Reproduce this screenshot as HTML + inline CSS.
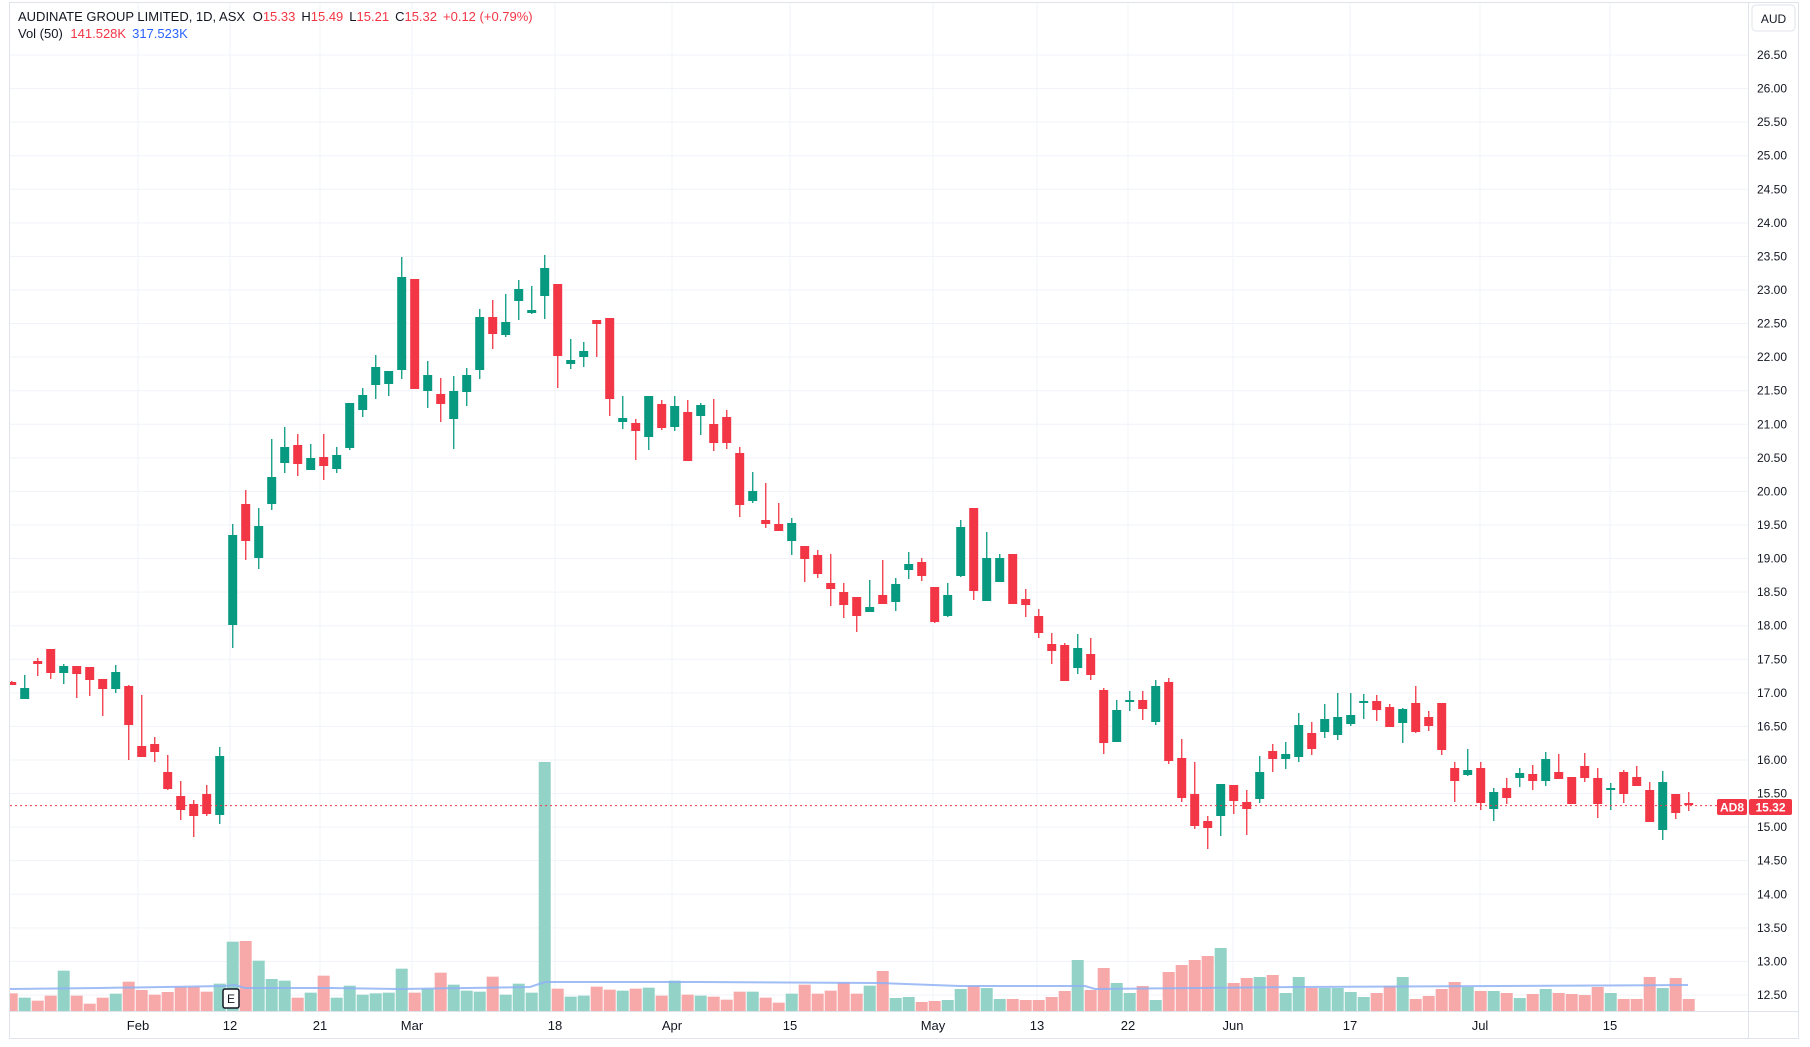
<!DOCTYPE html>
<html><head><meta charset="utf-8">
<style>
html,body{margin:0;padding:0;background:#fff;}
body{width:1810px;height:1042px;overflow:hidden;font-family:"Liberation Sans",sans-serif;}
svg text{font-family:"Liberation Sans",sans-serif;}
</style></head>
<body>
<svg id="s" width="1810" height="1042" viewBox="0 0 1810 1042" xmlns="http://www.w3.org/2000/svg">
<rect x="0" y="0" width="1810" height="1042" fill="#fff"/>
<rect x="9.5" y="2.5" width="1789" height="1036" fill="none" stroke="#e0e3eb" stroke-width="1"/>
<defs><clipPath id="cp"><rect x="10" y="3" width="1738" height="1008"/></clipPath></defs>
<g id="grid" stroke="#f0f3fa" stroke-width="1"></g>
<g id="vols" clip-path="url(#cp)"></g>
<polyline clip-path="url(#cp)" fill="none" stroke="#8fb1f5" stroke-width="2" opacity="0.85" points="10,989 100,988 225,986 235,985 245,988 330,988 400,989 530,987 545,982 700,982 880,983 960,986 1085,986 1095,989 1200,988 1300,987 1500,986 1688,985"/>
<g id="candles" clip-path="url(#cp)"></g>
<line x1="10" y1="805.6" x2="1717" y2="805.6" stroke="#f23645" stroke-width="1" stroke-dasharray="2,3"/>
<line x1="1748.5" y1="3" x2="1748.5" y2="1038" stroke="#e0e3eb"/>
<line x1="10" y1="1011.5" x2="1798" y2="1011.5" stroke="#e0e3eb"/>
<g id="plabels" font-size="12" fill="#131722"></g>
<g id="tlabels" font-size="13" fill="#131722" text-anchor="middle"></g>
<rect x="1752" y="5" width="43" height="26" rx="4" fill="#fff" stroke="#e0e3eb"/>
<text x="1773.5" y="23" font-size="12" text-anchor="middle" fill="#131722">AUD</text>
<rect x="1717" y="799" width="30" height="16" rx="2" fill="#f23645"/>
<text x="1732" y="811.5" font-size="12" font-weight="bold" text-anchor="middle" fill="#fff">AD8</text>
<rect x="1749" y="799" width="43" height="16" rx="2" fill="#f23645"/>
<text x="1770.5" y="811.5" font-size="12" font-weight="bold" text-anchor="middle" fill="#fff">15.32</text>
<rect x="223" y="989" width="16" height="19" rx="2" fill="#fff" stroke="#131722" stroke-width="1.5"/>
<text x="231" y="1003" font-size="12" text-anchor="middle" fill="#131722">E</text>
<text x="18" y="21" font-size="13" fill="#131722">AUDINATE GROUP LIMITED, 1D, ASX <tspan dx="4">O</tspan><tspan fill="#f23645">15.33</tspan><tspan dx="6">H</tspan><tspan fill="#f23645">15.49</tspan><tspan dx="6">L</tspan><tspan fill="#f23645">15.21</tspan><tspan dx="6">C</tspan><tspan fill="#f23645">15.32</tspan><tspan dx="6" fill="#f23645">+0.12 (+0.79%)</tspan></text>
<text x="18" y="38" font-size="13" fill="#131722">Vol (50) <tspan dx="4" fill="#f23645">141.528K</tspan><tspan dx="6" fill="#2962ff">317.523K</tspan></text>
</svg>
<script>
var NS="http://www.w3.org/2000/svg";
function el(p,t,a,txt){var e=document.createElementNS(NS,t);for(var k in a)e.setAttribute(k,a[k]);if(txt!==undefined)e.textContent=txt;p.appendChild(e);return e;}
var grid=document.getElementById('grid'),pl=document.getElementById('plabels'),tl=document.getElementById('tlabels');
for(var i=0;i<=28;i++){var p=26.5-i*0.5;var y=55+i*33.57;
 el(grid,'line',{x1:10,x2:1748,y1:y,y2:y});
 el(pl,'text',{x:1757,y:y+4},p.toFixed(2));}
var dates=[[138,'Feb'],[230,'12'],[320,'21'],[412,'Mar'],[555,'18'],[672,'Apr'],[790,'15'],[933,'May'],[1037,'13'],[1128,'22'],[1233,'Jun'],[1350,'17'],[1480,'Jul'],[1610,'15']];
dates.forEach(function(d){el(grid,'line',{x1:d[0],x2:d[0],y1:3,y2:1011});el(tl,'text',{x:d[0],y:1030},d[1]);});
var C=[
['r',681,682,685,685],['g',675,688,699,699],['r',658,661,664,676],['r',649,649,673,679],['g',664,666,673,684],
['r',666,666,674,698],['r',667,667,680,696],['r',679,679,689,716],['g',665,672,689,693],['r',685,686,725,760],
['r',695,746,757,757],['r',737,744,752,762],['r',755,772,789,790],['r',781,796,810,820],['r',800,804,816,837],
['r',785,794,814,816],['g',747,756,815,824],['g',524,535,625,648],['r',490,504,541,560],['g',508,526,558,569],
['g',439,477,504,510],['g',427,447,463,473],['r',434,445,464,476],['g',444,458,470,470],['r',434,457,466,480],
['g',447,455,469,473],['g',403,403,448,450],['g',388,395,410,417],['g',355,367,385,399],['g',371,371,384,396],
['g',257,277,370,379],['r',279,279,389,389],['g',361,375,391,408],['r',378,394,404,422],['g',376,391,419,449],
['g',368,375,392,406],['g',309,317,370,379],['r',300,317,334,349],['g',294,322,335,337],['g',280,289,301,320],
['g',286,310,313,314],['g',255,268,296,319],['r',284,284,356,388],['g',339,360,364,369],['g',342,351,357,367],
['r',320,320,324,357],['r',318,318,399,416],['g',396,418,422,429],['r',419,423,431,460],['g',396,396,437,450],
['r',400,404,428,430],['g',396,406,427,431],['r',400,412,461,461],['g',403,405,416,435],['r',399,424,443,451],
['r',410,417,443,449],['r',447,453,505,517],['g',472,491,501,503],['r',483,520,524,528],['r',503,524,531,531],
['g',518,523,541,555],['r',546,546,559,582],['r',550,555,574,578],['r',554,583,589,606],['r',583,592,605,618],
['r',597,597,616,632],['g',580,607,612,612],['r',560,595,604,604],['g',578,584,602,611],['g',552,564,570,579],
['r',558,562,576,581],['r',587,587,622,623],['g',583,595,616,617],['g',520,527,576,577],['r',508,508,591,600],
['g',532,558,601,601],['g',554,558,582,582],['r',554,554,604,604],['r',589,599,605,617],['r',609,616,633,638],
['r',633,644,651,664],['r',643,645,681,681],['g',634,648,668,674],['r',638,654,675,680],['r',688,690,743,754],
['g',700,710,742,742],['g',691,700,702,711],['r',691,700,709,720],['g',680,686,722,725],['r',678,682,761,764],
['r',739,758,798,802],['r',762,794,826,829],['r',816,821,828,849],['g',784,784,816,836],['r',785,785,801,814],
['r',790,802,809,835],['g',756,772,799,803],['r',744,751,759,772],['g',742,754,759,769],['g',713,725,757,762],
['r',722,733,749,755],['g',704,719,732,738],['g',693,717,735,740],['g',693,715,724,726],['g',694,701,703,719],
['r',695,701,710,721],['r',704,707,727,727],['g',708,709,723,743],['r',686,703,732,733],['r',711,717,726,731],
['r',703,703,750,755],['r',762,768,781,802],['g',749,770,775,776],['r',762,768,803,810],['g',788,792,809,821],
['r',778,788,798,804],['g',768,773,778,787],['r',765,774,781,790],['g',752,759,781,786],['r',754,772,779,779],
['r',777,777,804,804],['r',753,766,778,782],['r',768,778,804,818],['g',783,788,790,810],['r',770,772,794,803],
['r',766,777,786,786],['r',782,790,822,822],['g',771,782,830,840],['r',794,794,813,819],['r',792,803,805,811]];
var V=[160,173,182,167,92,167,191,173,161,125,150,164,156,141,141,155,131,5,3,62,117,122,173,158,107,173,137,164,160,158,86,158,146,98,134,152,155,110,164,131,158,-534,146,170,167,140,149,152,146,143,167,122,164,167,170,179,155,155,173,188,161,134,161,152,128,161,137,93,174,171,186,183,180,147,138,144,177,177,180,180,171,153,60,150,84,129,159,138,180,96,75,60,48,24,129,114,111,105,159,111,144,144,144,156,171,159,138,111,177,168,147,126,141,153,153,159,174,162,147,159,162,165,141,159,177,177,111,144,114,177];
var cg=document.getElementById('candles'),vg=document.getElementById('vols');
C.forEach(function(c,i){var x=11.7+13*i;var col=c[0]=='g'?'#089981':'#f23645';
 var vt=940+V[i]/3;el(vg,'rect',{x:x-6,y:vt,width:12,height:1011-vt,fill:c[0]=='g'?'#92d2c7':'#f7a8a8'});
 el(cg,'rect',{x:x-0.6,y:c[1],width:1.3,height:Math.max(1,c[4]-c[1]),fill:col});
 el(cg,'rect',{x:x-4.5,y:c[2],width:9,height:Math.max(1.5,c[3]-c[2]),fill:col});});
</script>
</body></html>
